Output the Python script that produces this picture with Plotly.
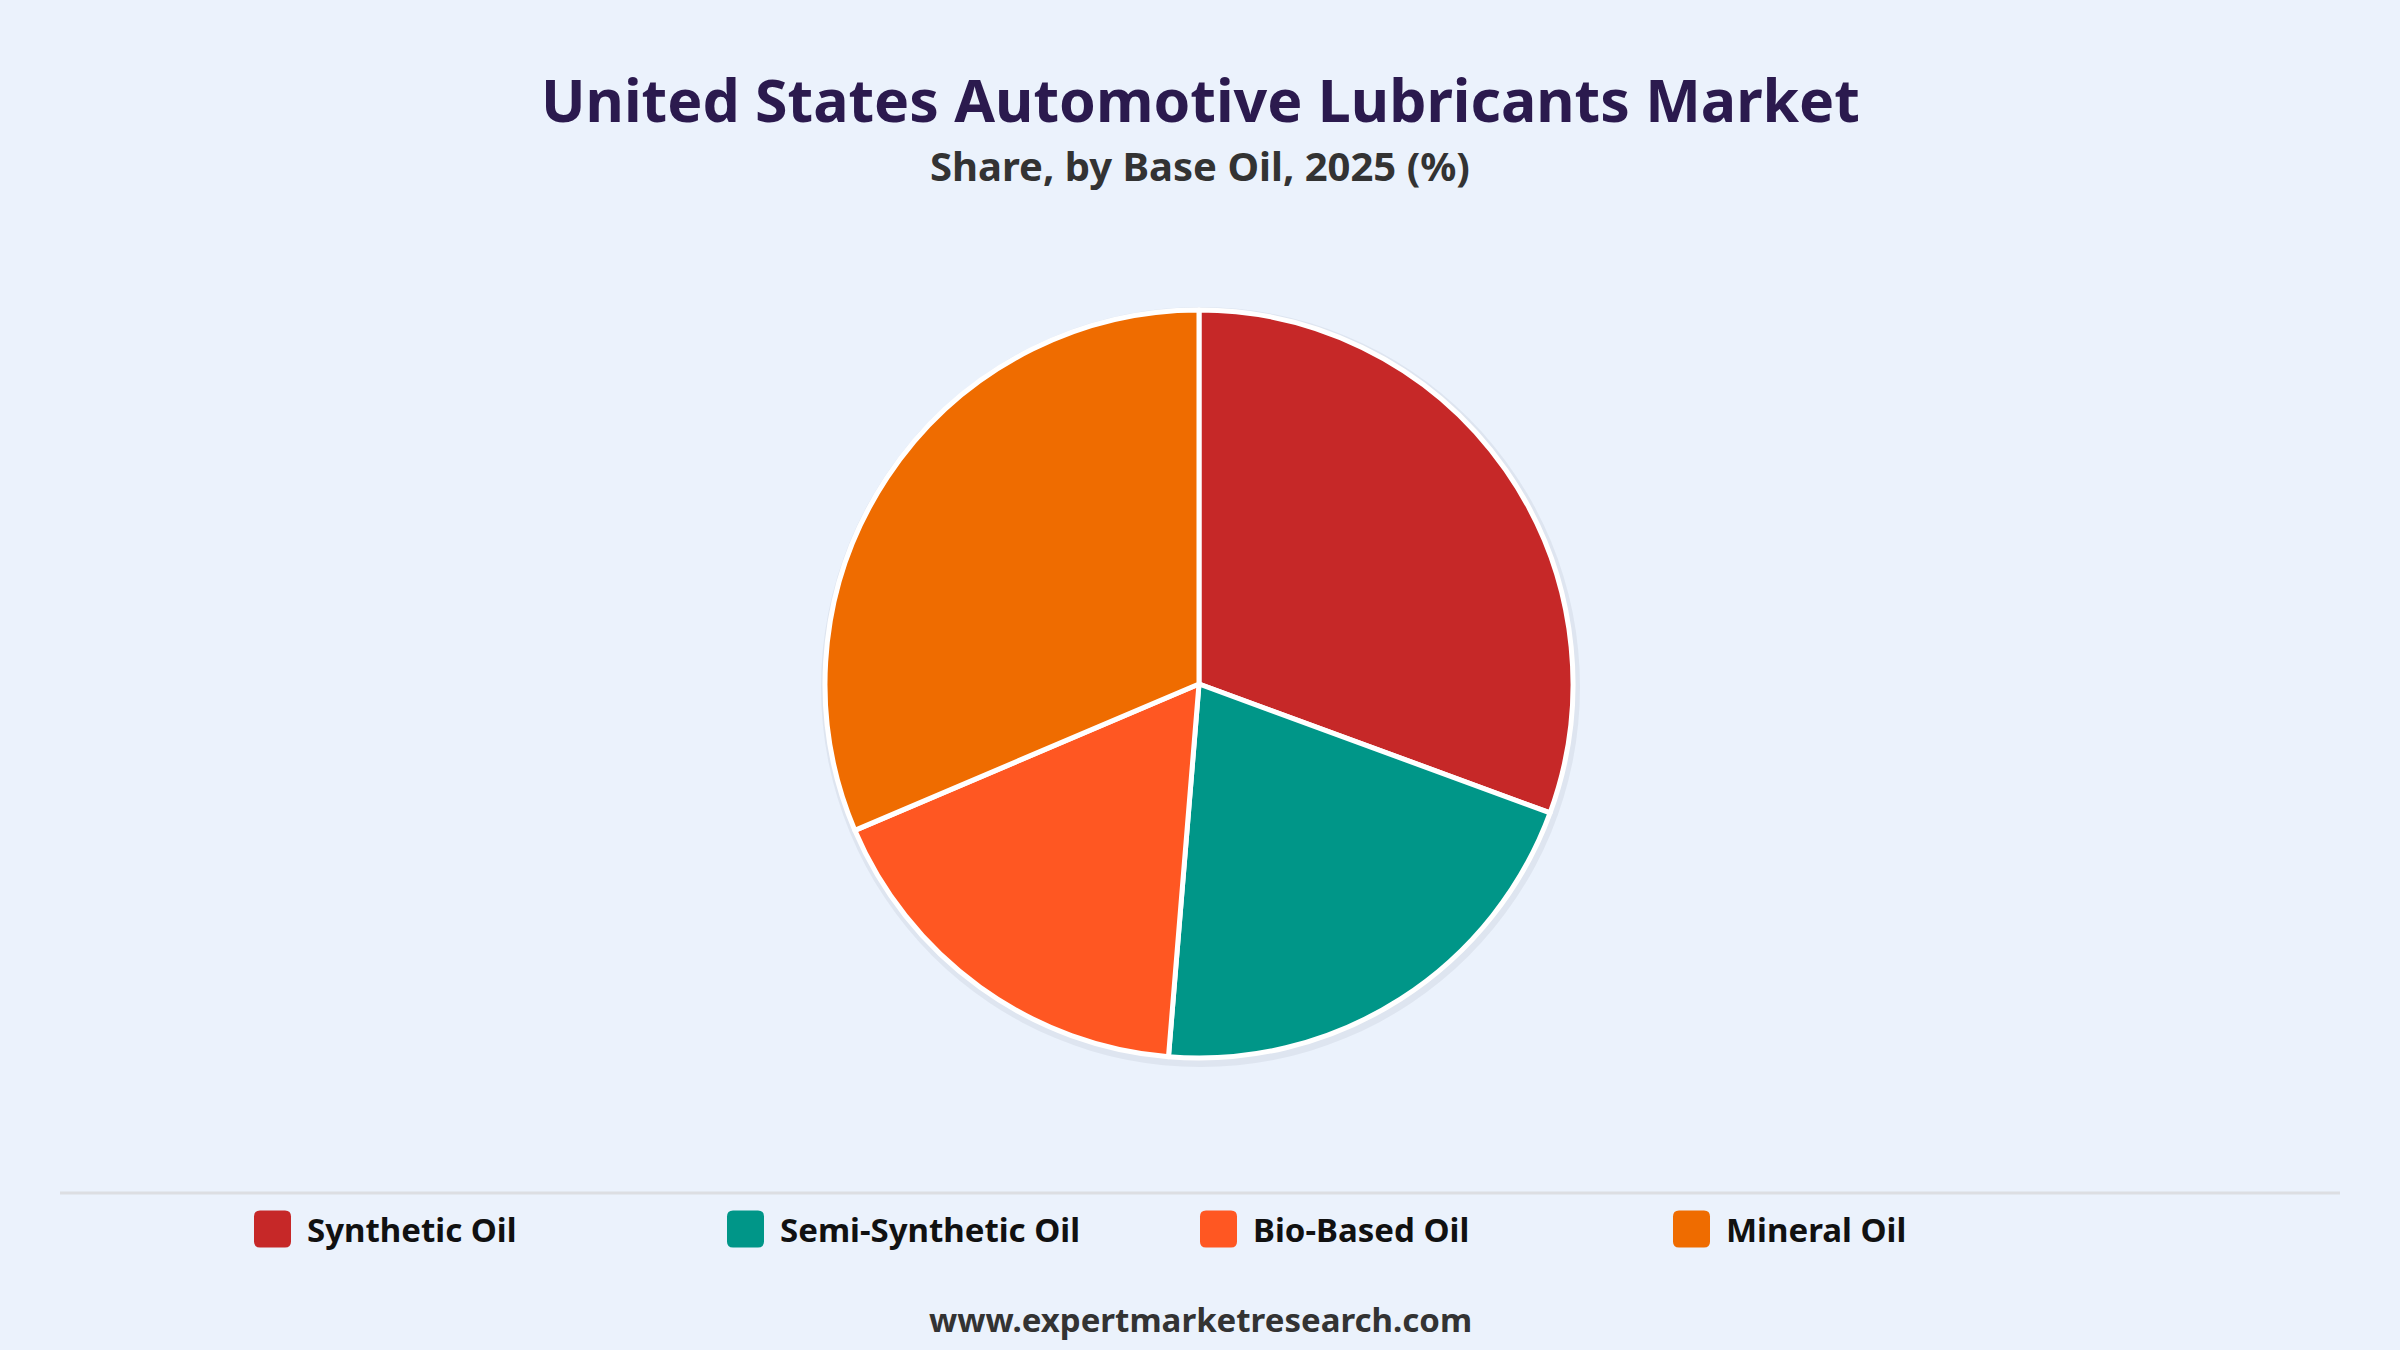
"""
United States Automotive Lubricants Market - share by base oil, 2025 (%).
Pie chart with a hand-drawn legend row, separator line and source footer.
"""

import plotly.graph_objects as go

# ---------------------------------------------------------------------------
# Data
# ---------------------------------------------------------------------------
LABELS = ["Synthetic Oil", "Semi-Synthetic Oil", "Bio-Based Oil", "Mineral Oil"]
SHARES = [30.6, 20.7, 17.3, 31.4]
COLORS = ["#c62828", "#009688", "#ff5722", "#ef6c00"]

TITLE = "United States Automotive Lubricants Market"
SUBTITLE = "Share, by Base Oil, 2025 (%)"
SOURCE = "www.expertmarketresearch.com"

W, H = 2400, 1350
BG = "#ebf2fc"
FONT = "Noto Sans"


def px_x(v):
    return v / W


def px_y(v):
    # pixel from top -> paper from bottom
    return 1 - v / H


def rounded_rect(x0, y0, x1, y1, r):
    """SVG path (paper coords) for a rounded rectangle given in pixels."""
    pts = [
        f"M {px_x(x0 + r)},{px_y(y0)}",
        f"L {px_x(x1 - r)},{px_y(y0)}",
        f"Q {px_x(x1)},{px_y(y0)} {px_x(x1)},{px_y(y0 + r)}",
        f"L {px_x(x1)},{px_y(y1 - r)}",
        f"Q {px_x(x1)},{px_y(y1)} {px_x(x1 - r)},{px_y(y1)}",
        f"L {px_x(x0 + r)},{px_y(y1)}",
        f"Q {px_x(x0)},{px_y(y1)} {px_x(x0)},{px_y(y1 - r)}",
        f"L {px_x(x0)},{px_y(y0 + r)}",
        f"Q {px_x(x0)},{px_y(y0)} {px_x(x0 + r)},{px_y(y0)}",
        "Z",
    ]
    return " ".join(pts)


fig = go.Figure()

fig.add_trace(
    go.Pie(
        labels=LABELS,
        values=SHARES,
        marker=dict(colors=COLORS, line=dict(color="white", width=5)),
        sort=False,
        direction="clockwise",
        rotation=0,
        textinfo="none",
        hoverinfo="label+percent",
        showlegend=False,
        domain=dict(x=[px_x(825), px_x(1573)], y=[px_y(1059), px_y(309)]),
    )
)

shapes = [
    # soft shadow behind the pie
    dict(
        type="circle", xref="paper", yref="paper", layer="below",
        x0=px_x(821), x1=px_x(1580), y0=px_y(1067), y1=px_y(307),
        fillcolor="rgba(60,70,90,0.07)", line=dict(width=0),
    ),
    # separator line above the legend
    dict(
        type="line", xref="paper", yref="paper",
        x0=px_x(60), x1=px_x(2340), y0=px_y(1193), y1=px_y(1193),
        line=dict(color="#dcdee2", width=3),
    ),
]

annotations = [
    dict(text=f"<b>{TITLE}</b>", x=0.5, y=px_y(99), xref="paper", yref="paper",
         showarrow=False, xanchor="center", yanchor="middle",
         font=dict(family=FONT, size=59, color="#2b1a4e", weight=800)),
    dict(text=f"<b>{SUBTITLE}</b>", x=0.5, y=px_y(165), xref="paper", yref="paper",
         showarrow=False, xanchor="center", yanchor="middle",
         font=dict(family=FONT, size=40, color="#333333")),
    dict(text=f"<b>{SOURCE}</b>", x=0.5, y=px_y(1319), xref="paper", yref="paper",
         showarrow=False, xanchor="center", yanchor="middle",
         font=dict(family=FONT, size=33, color="#333333")),
]

# legend row: rounded swatch + label per category
LEG_X0, LEG_STEP, LEG_Y, SW = 254, 473, 1229, 37
for i, (label, color) in enumerate(zip(LABELS, COLORS)):
    x0 = LEG_X0 + i * LEG_STEP
    shapes.append(dict(
        type="path", xref="paper", yref="paper",
        path=rounded_rect(x0, LEG_Y - SW / 2, x0 + SW, LEG_Y + SW / 2, 6),
        fillcolor=color, line=dict(width=0),
    ))
    annotations.append(dict(
        text=f"<b>{label}</b>", x=px_x(x0 + SW + 14), y=px_y(LEG_Y),
        xref="paper", yref="paper", showarrow=False,
        xanchor="left", yanchor="middle",
        font=dict(family=FONT, size=33, color="#111111"),
    ))

fig.update_layout(
    width=W,
    height=H,
    margin=dict(l=0, r=0, t=0, b=0),
    paper_bgcolor=BG,
    plot_bgcolor=BG,
    font=dict(family=FONT),
    shapes=shapes,
    annotations=annotations,
)

fig.write_html(
    "out.html",
    config={"displayModeBar": False},
    post_script="document.body.style.margin='0';document.body.style.background='%s';" % BG,
)
